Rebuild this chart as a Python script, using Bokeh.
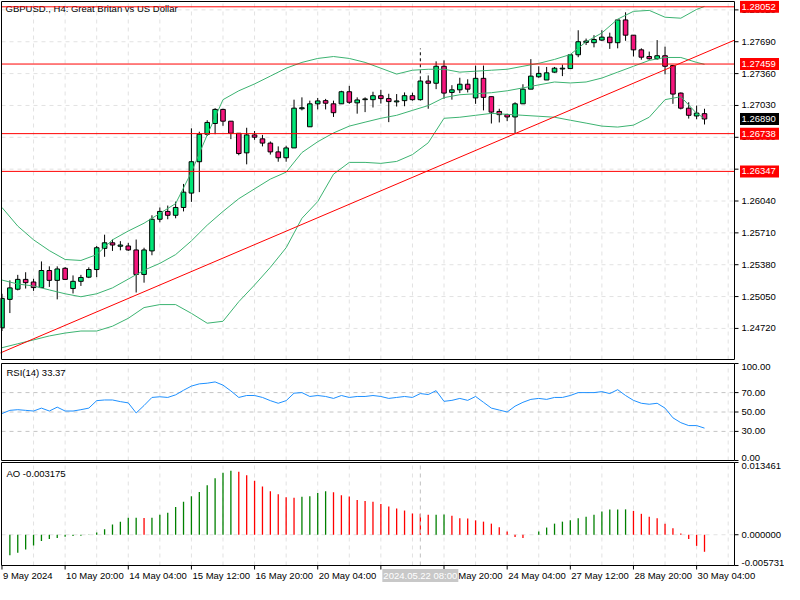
from bokeh.plotting import figure
from bokeh.models import Range1d
from bokeh.layouts import column
from bokeh.embed import file_html
from bokeh.resources import INLINE
from bokeh.core.properties import value

FONT = "Liberation Sans"
FS = "9.5px"

# ---------------- data (GBPUSD H4) ----------------
opens = [1.24726, 1.25021, 1.25126, 1.25228, 1.25201, 1.25143, 1.25320, 1.25218, 1.25343, 1.25133,
         1.25208, 1.25251, 1.25330, 1.25549, 1.25607, 1.25571, 1.25574, 1.25533, 1.25279, 1.25523,
         1.25851, 1.25932, 1.25892, 1.25973, 1.26122, 1.26447, 1.26732, 1.26843, 1.26989, 1.26867,
         1.26742, 1.26539, 1.26725, 1.26684, 1.26640, 1.26549, 1.26488, 1.26590, 1.26996, 1.26809,
         1.27047, 1.27080, 1.27047, 1.27047, 1.27172, 1.27057, 1.27090, 1.27090, 1.27131, 1.27101,
         1.27067, 1.27080, 1.27131, 1.27090, 1.27283, 1.27260, 1.27436, 1.27165, 1.27192, 1.27250,
         1.27108, 1.27311, 1.27121, 1.26968, 1.26935, 1.26911, 1.27047, 1.27199, 1.27327, 1.27294,
         1.27375, 1.27408, 1.27412, 1.27555, 1.27683, 1.27680, 1.27707, 1.27738, 1.27680, 1.27916,
         1.27758, 1.27606, 1.27537, 1.27514, 1.27545, 1.27443, 1.27158, 1.27002, 1.26921, 1.26945]
highs = [1.25079, 1.25218, 1.25275, 1.25302, 1.25234, 1.25414, 1.25363, 1.25363, 1.25356, 1.25269,
         1.25275, 1.25353, 1.25574, 1.25691, 1.25641, 1.25624, 1.25607, 1.25641, 1.25556, 1.25892,
         1.25973, 1.25993, 1.26034, 1.26217, 1.26793, 1.26758, 1.26877, 1.27002, 1.26996, 1.26867,
         1.26742, 1.26799, 1.26765, 1.26725, 1.26657, 1.26606, 1.26613, 1.27090, 1.27114, 1.27080,
         1.27108, 1.27098, 1.27080, 1.27182, 1.27233, 1.27114, 1.27114, 1.27172, 1.27192, 1.27151,
         1.27148, 1.27165, 1.27162, 1.27301, 1.27341, 1.27487, 1.27497, 1.27240, 1.27317, 1.27301,
         1.27443, 1.27443, 1.27121, 1.26996, 1.26945, 1.27063, 1.27250, 1.27510, 1.27436, 1.27429,
         1.27429, 1.27453, 1.27555, 1.27809, 1.27723, 1.27758, 1.27809, 1.27784, 1.27916, 1.27995,
         1.27758, 1.27622, 1.27588, 1.27707, 1.27639, 1.27443, 1.27165, 1.27063, 1.27029, 1.26996]
lows = [1.24693, 1.24879, 1.25114, 1.25133, 1.25109, 1.25140, 1.25150, 1.25021, 1.25221, 1.25082,
        1.25160, 1.25241, 1.25251, 1.25462, 1.25523, 1.25529, 1.25523, 1.25092, 1.25194, 1.25478,
        1.25820, 1.25851, 1.25861, 1.25932, 1.26031, 1.26132, 1.26714, 1.26732, 1.26819, 1.26681,
        1.26514, 1.26420, 1.26674, 1.26606, 1.26521, 1.26447, 1.26447, 1.26590, 1.26979, 1.26809,
        1.26989, 1.26989, 1.26911, 1.27047, 1.27047, 1.26945, 1.26961, 1.27009, 1.27050, 1.26857,
        1.27019, 1.27022, 1.27080, 1.27080, 1.26996, 1.27199, 1.27098, 1.27090, 1.27158, 1.27165,
        1.27047, 1.26979, 1.26843, 1.26854, 1.26867, 1.26738, 1.27047, 1.27199, 1.27317, 1.27294,
        1.27368, 1.27334, 1.27412, 1.27530, 1.27656, 1.27632, 1.27697, 1.27616, 1.27622, 1.27700,
        1.27537, 1.27504, 1.27504, 1.27504, 1.27352, 1.27047, 1.26989, 1.26894, 1.26887, 1.26833]
closes = [1.25031, 1.25140, 1.25228, 1.25194, 1.25143, 1.25320, 1.25218, 1.25336, 1.25228, 1.25208,
          1.25248, 1.25330, 1.25556, 1.25607, 1.25584, 1.25584, 1.25533, 1.25279, 1.25533, 1.25851,
          1.25932, 1.25892, 1.25973, 1.26132, 1.26447, 1.26732, 1.26854, 1.26989, 1.26867, 1.26742,
          1.26532, 1.26725, 1.26701, 1.26640, 1.26549, 1.26488, 1.26590, 1.27002, 1.27006, 1.27047,
          1.27077, 1.27053, 1.26955, 1.27172, 1.27063, 1.27087, 1.27098, 1.27131, 1.27101, 1.27070,
          1.27077, 1.27131, 1.27090, 1.27283, 1.27260, 1.27436, 1.27158, 1.27192, 1.27250, 1.27199,
          1.27311, 1.27114, 1.26961, 1.26935, 1.26911, 1.27047, 1.27199, 1.27334, 1.27362, 1.27368,
          1.27416, 1.27416, 1.27555, 1.27690, 1.27697, 1.27713, 1.27738, 1.27680, 1.27916, 1.27758,
          1.27606, 1.27530, 1.27514, 1.27545, 1.27436, 1.27148, 1.27002, 1.26928, 1.26951, 1.26890]

# Bollinger bands read every second bar
bb_idx = list(range(0, 90, 2)) + [89]
bb_upper = [1.25973, 1.25780, 1.25638, 1.25526, 1.25434, 1.25424, 1.25485, 1.25638, 1.25729, 1.25810,
            1.25912, 1.26013, 1.26339, 1.26725, 1.27090, 1.27182, 1.27253, 1.27334, 1.27416, 1.27476,
            1.27517, 1.27537, 1.27517, 1.27476, 1.27416, 1.27355, 1.27395, 1.27405, 1.27405, 1.27375,
            1.27385, 1.27395, 1.27405, 1.27436, 1.27466, 1.27507, 1.27558, 1.27690, 1.27781, 1.27924,
            1.28005, 1.28015, 1.27944, 1.27934, 1.28025, 1.28056]
bb_mid = [1.25221, 1.25180, 1.25160, 1.25119, 1.25079, 1.25048, 1.25079, 1.25140, 1.25231, 1.25323,
          1.25394, 1.25485, 1.25627, 1.25790, 1.25932, 1.26064, 1.26166, 1.26267, 1.26339, 1.26542,
          1.26654, 1.26745, 1.26816, 1.26857, 1.26897, 1.26928, 1.26979, 1.27029, 1.27111, 1.27141,
          1.27151, 1.27162, 1.27182, 1.27212, 1.27243, 1.27273, 1.27263, 1.27273, 1.27314, 1.27375,
          1.27436, 1.27497, 1.27527, 1.27527, 1.27476, 1.27456]
bb_lower = [1.24520, 1.24561, 1.24601, 1.24642, 1.24672, 1.24693, 1.24693, 1.24743, 1.24825, 1.24936,
            1.24967, 1.24967, 1.24876, 1.24774, 1.24794, 1.24997, 1.25170, 1.25353, 1.25556, 1.25861,
            1.26034, 1.26318, 1.26440, 1.26440, 1.26430, 1.26450, 1.26521, 1.26643, 1.26897, 1.26908,
            1.26928, 1.26948, 1.26938, 1.26928, 1.26918, 1.26908, 1.26877, 1.26847, 1.26816, 1.26806,
            1.26826, 1.26908, 1.27090, 1.27121, 1.26948, 1.26897]

rsi = [48.4, 51.7, 52.4, 51.7, 51.0, 54.0, 51.0, 55.0, 51.0, 51.0,
       52.4, 54.0, 61.7, 62.4, 62.4, 60.7, 59.4, 49.0, 56.7, 65.0,
       65.7, 65.0, 67.7, 72.4, 76.7, 79.0, 79.7, 81.0, 77.7, 71.7,
       65.0, 67.0, 67.0, 65.0, 61.7, 59.0, 61.7, 69.4, 70.0, 66.0,
       67.0, 66.0, 64.0, 67.0, 65.0, 66.0, 66.0, 67.0, 66.0, 64.0,
       65.0, 66.0, 65.0, 69.0, 68.0, 72.0, 61.0, 62.0, 64.0, 62.0,
       66.0, 60.0, 54.0, 52.0, 50.0, 56.0, 60.0, 63.0, 64.0, 63.0,
       65.0, 65.0, 67.0, 70.0, 70.0, 70.0, 71.0, 69.0, 73.0, 67.0,
       62.0, 59.0, 58.0, 59.0, 54.0, 44.0, 39.0, 36.0, 36.0, 33.37]

ao_first = 1
ao = [-0.00384, -0.00335, -0.00274, -0.00201, -0.00116, -0.00079, -0.00061, -0.00037, -0.00024, -0.00020,
      0.00003, 0.00043, 0.00104, 0.00189, 0.00244, 0.00315, 0.00318, 0.00311, 0.00317, 0.00371,
      0.00408, 0.00518, 0.00615, 0.00719, 0.00798, 0.00920, 0.01054, 0.01157, 0.01194, 0.01175,
      0.01108, 0.01005, 0.00901, 0.00810, 0.00755, 0.00700, 0.00688, 0.00706, 0.00719, 0.00780,
      0.00810, 0.00792, 0.00737, 0.00713, 0.00646, 0.00627, 0.00615, 0.00572, 0.00524, 0.00487,
      0.00451, 0.00396, 0.00390, 0.00371, 0.00373, 0.00375, 0.00353, 0.00306, 0.00304, 0.00268,
      0.00244, 0.00207, 0.00140, 0.00061, -0.00043, -0.00061, -0.00002, 0.00061, 0.00134, 0.00207,
      0.00244, 0.00268, 0.00305, 0.00335, 0.00371, 0.00432, 0.00469, 0.00471, 0.00473, 0.00445,
      0.00390, 0.00335, 0.00305, 0.00207, 0.00122, 0.00024, -0.00079, -0.00207, -0.003175]

price_lo, price_hi = 1.24398, 1.28107
price_ticks = [1.24720, 1.25050, 1.25380, 1.25710, 1.26040, 1.26370, 1.26700, 1.27030, 1.27360, 1.27690, 1.28020]
hlines = [1.28052, 1.27459, 1.26738, 1.26347]
last_price = 1.26890
trend_idx = [0, 65]
trend_price = [1.24473, 1.26738]
rsi_levels = [30, 50, 70]
rsi_ticks = [100, 70, 50, 30, 0]
ao_max, ao_min = 0.013461, -0.005731
tick_idx = list(range(0, 90, 8))
date_idx = [0, 8, 16, 24, 32, 40, 56, 64, 72, 80, 88]
date_lbl = ["9 May 2024", "10 May 20:00", "14 May 04:00", "15 May 12:00", "16 May 20:00",
            "20 May 04:00", "22 May 20:00", "24 May 04:00", "27 May 12:00", "28 May 20:00", "30 May 04:00"]
cursor_idx = 53
cursor_lbl = "2024.05.22 08:00"
title = "GBPUSD., H4:  Great Britan vs US Dollar"

# ---------------- geometry ----------------
BULL, BEAR = "#00e676", "#f5157d"
GRID = "#e2e2e2"
W = 784
L, R = -0.06, 92.8          # bar-index span of the plotting area
FW = 733                     # plotting-area width in px
PX = FW / (R - L)            # px per bar
xr = Range1d(L - 1 / PX, R + (W - FW - 1) / PX)
TXT = dict(text_font=value(FONT), text_font_size=value(FS))


def panel(H, T, B, lo, hi):
    ypx = (hi - lo) / (H - T - B)
    f = figure(width=W, height=H, x_range=xr, y_range=Range1d(lo - B * ypx, hi + T * ypx),
               output_backend="svg", toolbar_location=None, x_axis_location=None,
               y_axis_location=None, min_border=0, outline_line_color=None)
    f.grid.visible = False
    f.background_fill_color = "white"
    f.border_fill_color = "white"
    gx = list(range(4, 93, 4))
    f.segment(x0=gx, y0=[lo] * len(gx), x1=gx, y1=[hi] * len(gx), line_color=GRID,
              line_dash="4 4", line_width=1)
    return f, ypx


def frame(f, lo, hi):
    f.segment(x0=[L, R, L, L], y0=[lo, lo, lo, hi], x1=[L, R, R, R], y1=[hi, hi, lo, hi],
              line_color="black", line_width=1)


def yticks(f, vals, labels, baselines):
    n = len(vals)
    f.segment(x0=[R] * n, y0=vals, x1=[R + 4 / PX] * n, y1=vals, line_color="black", line_width=1)
    for v, s, b in zip(vals, labels, baselines):
        f.text(x=[R + 7 / PX], y=[v], text=[s], text_align="left", text_baseline=b,
               text_color="black", **TXT)


def tag(f, v, color):
    f.rect(x=[R + 25 / PX], y=[v], width=39, height=12, width_units="screen",
           height_units="screen", fill_color=color, line_color=None)
    f.text(x=[R + 7 / PX], y=[v], text=[f"{v:.5f}"], text_align="left", text_baseline="middle",
           text_color="white", **TXT)


# ---- main price panel ----
p1, ypx1 = panel(360, 1, 1, price_lo, price_hi)
p1.segment(x0=[L] * len(price_ticks), y0=price_ticks, x1=[R] * len(price_ticks), y1=price_ticks,
           line_color=GRID, line_dash="4 4", line_width=1)
p1.text(x=[L], y=[price_hi], x_offset=4, y_offset=1, text=[title], text_align="left",
        text_baseline="top", text_color="black", **TXT)

idx = list(range(len(opens)))
bull = [c >= o for o, c in zip(opens, closes)]
p1.segment(x0=idx, y0=highs, x1=idx, y1=lows, line_color="black", line_width=1)
p1.vbar(x=idx, width=0.58, top=[max(o, c) for o, c in zip(opens, closes)],
        bottom=[min(o, c) for o, c in zip(opens, closes)],
        fill_color=[BULL if b else BEAR for b in bull], line_color="black", line_width=1)

for band in (bb_upper, bb_mid, bb_lower):
    p1.line(bb_idx, band, line_color="#3cb371", line_width=1)

slope = (trend_price[1] - trend_price[0]) / (trend_idx[1] - trend_idx[0])
tx = [L - 0.2, R]
p1.line(tx, [trend_price[0] + slope * (t - trend_idx[0]) for t in tx], line_color="red", line_width=1)

p1.segment(x0=[cursor_idx], y0=[highs[cursor_idx]], x1=[cursor_idx], y1=[1.27620],
           line_color="black", line_dash="3 3", line_width=1)

p1.segment(x0=[L] * len(hlines), y0=hlines, x1=[R] * len(hlines), y1=hlines, line_color="red", line_width=1)
frame(p1, price_lo, price_hi)
yticks(p1, price_ticks, [f"{v:.5f}" for v in price_ticks], ["middle"] * len(price_ticks))
for v in hlines:
    tag(p1, v, "red")
tag(p1, last_price, "black")

# ---- RSI panel ----
p2, ypx2 = panel(101, 3, 1, 0, 100)
p2.segment(x0=[L] * 3, y0=rsi_levels, x1=[R] * 3, y1=rsi_levels, line_color="#c4c4c4",
           line_dash="4 4", line_width=1)
p2.line(list(range(len(rsi))), rsi, line_color="#1e90ff", line_width=1)
p2.text(x=[L], y=[100], x_offset=5, y_offset=3, text=[f"RSI(14) {rsi[-1]:.2f}"], text_align="left",
        text_baseline="top", text_color="black", **TXT)
frame(p2, 0, 100)
yticks(p2, rsi_ticks, [f"{v:.2f}" for v in rsi_ticks], ["top", "middle", "middle", "middle", "bottom"])

# ---- AO panel ----
p3, ypx3 = panel(123, 1, 19, ao_min, ao_max)
p3.segment(x0=[L], y0=[0], x1=[R], y1=[0], line_color=GRID, line_dash="4 4", line_width=1)
ao_x = list(range(ao_first, ao_first + len(ao)))
ao_col = ["#008000"] + ["#008000" if ao[k] > ao[k - 1] else "#ff0000" for k in range(1, len(ao))]
p3.segment(x0=ao_x, y0=[0] * len(ao), x1=ao_x, y1=ao, line_color=ao_col, line_width=1.3)
p3.segment(x0=[cursor_idx], y0=[ao_min], x1=[cursor_idx], y1=[ao_max], line_color="#c0c0c0",
           line_dash="4 4", line_width=1)
p3.text(x=[L], y=[ao_max], x_offset=5, y_offset=5, text=[f"AO {ao[-1]:.6f}"], text_align="left",
        text_baseline="top", text_color="black", **TXT)
frame(p3, ao_min, ao_max)
yticks(p3, [ao_max, 0.0, ao_min], [f"{ao_max:.6f}", f"{0:.6f}", f"{ao_min:.6f}"],
       ["top", "middle", "bottom"])

# time axis
p3.segment(x0=tick_idx, y0=[ao_min] * len(tick_idx), x1=tick_idx,
           y1=[ao_min - 4 * ypx3] * len(tick_idx), line_color="black", line_width=1)
ylab = ao_min - 10 * ypx3
p3.text(x=date_idx, y=[ylab] * len(date_idx), x_offset=1, text=date_lbl, text_align="left",
        text_baseline="middle", text_color="black", **TXT)
p3.rect(x=[cursor_idx], y=[ylab], width=76, height=13, width_units="screen", height_units="screen",
        fill_color="#c8c8c8", line_color=None)
p3.text(x=[cursor_idx], y=[ylab], text=[cursor_lbl], text_align="center", text_baseline="middle",
        text_color="white", **TXT)

layout = column(p1, p2, p3, spacing=0)
open("out.html", "w").write(file_html(layout, INLINE))
